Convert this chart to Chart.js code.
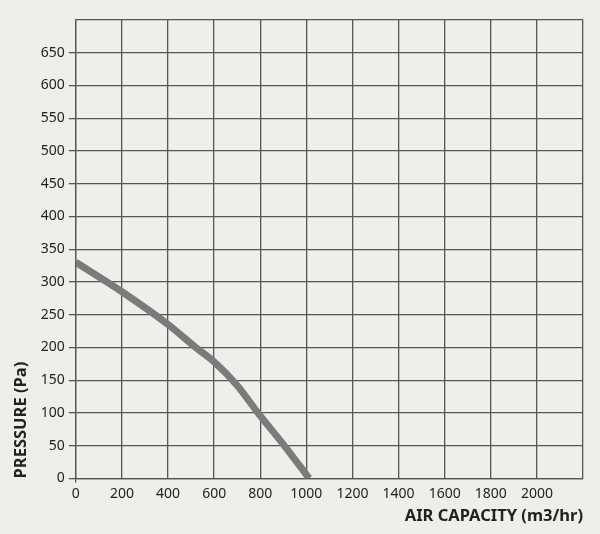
<!DOCTYPE html>
<html>
<head>
<meta charset="utf-8">
<script src="https://cdn.jsdelivr.net/npm/chart.js@4"></script>
<style>
  html, body { margin: 0; padding: 0; background: #efeeeb; }
  #wrap { width: 600px; height: 534px; }
</style>
</head>
<body>
<div id="wrap"><canvas id="mychart" width="600" height="534"></canvas></div>
<script>
// air capacity (m3/hr) vs pressure (Pa)
let airflow  = [0, 200, 400, 520, 600, 700, 790, 900, 1012];
let pressure = [330, 285, 235, 200, 178, 142, 100, 52, 0];

let x_max = 2200;
let y_max = 700;

function grafico(ctx){

    let pontos = airflow.map((x, i) => ({x: x, y: pressure[i]}));

    let datasets = [
        {
            label: 'Pressure',
            data: pontos,
            fill: false,
            borderColor: '#7b7b7b',
            borderWidth: 7,
            pointRadius: 0,
            cubicInterpolationMode: 'monotone'
        }
    ];

    return new Chart(ctx, {
        type: 'line',
        data: { datasets: datasets },
        options: {
            responsive: false,
            animation: false,
            layout: { padding: { top: 20, right: 17, left: 11, bottom: 8 } },
            plugins: { legend: { display: false }, tooltip: { enabled: false } },
            scales: {
                x: {
                    type: 'linear',
                    min: 0,
                    max: x_max,
                    grid: {
                        color: '#555',
                        lineWidth: 1.3,
                        tickLength: 4,
                        // only the left edge pokes below the axis
                        tickColor: c => c.tick && c.tick.value == 0 ? '#555' : 'rgba(0,0,0,0)'
                    },
                    border: { color: '#555', width: 1.3 },
                    ticks: {
                        stepSize: 200,
                        maxRotation: 0,
                        autoSkip: false,
                        color: '#222',
                        padding: 3,
                        font: { family: 'Noto Sans', size: 14 },
                        callback: v => v == x_max ? '' : v
                    },
                    title: {
                        display: true,
                        text: 'AIR CAPACITY (m3/hr)',
                        align: 'end',
                        color: '#222',
                        padding: { top: 1, bottom: 0 },
                        font: { family: 'Noto Sans', size: 16.5, weight: 'bold' }
                    }
                },
                y: {
                    min: 0,
                    max: y_max,
                    grid: {
                        color: '#555',
                        lineWidth: 1.3,
                        tickLength: 7,
                        tickColor: c => c.tick && c.tick.value == y_max ? 'rgba(0,0,0,0)' : '#555'
                    },
                    border: { color: '#555', width: 1.3 },
                    ticks: {
                        stepSize: 50,
                        autoSkip: false,
                        color: '#222',
                        padding: 4,
                        font: { family: 'Noto Sans', size: 14 },
                        callback: v => v == y_max ? '' : v
                    },
                    title: {
                        display: true,
                        text: 'PRESSURE (Pa)',
                        align: 'start',
                        color: '#222',
                        padding: { top: 0, bottom: 6 },
                        font: { family: 'Noto Sans', size: 16.5, weight: 'bold' }
                    }
                }
            }
        }
    });
};

let ctx = document.getElementById("mychart");
let chart = grafico(ctx);
</script>
</body>
</html>
